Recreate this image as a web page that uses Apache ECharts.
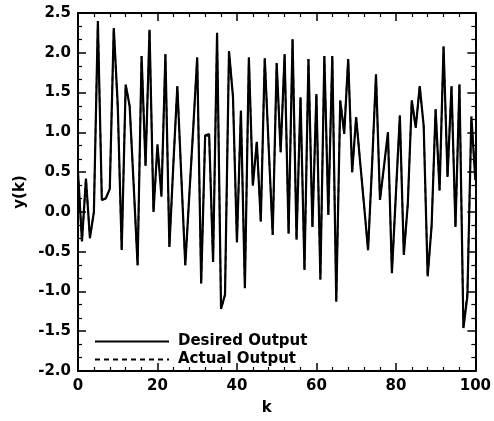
<!DOCTYPE html>
<html><head><meta charset="utf-8">
<script src="https://cdn.jsdelivr.net/npm/echarts@6/dist/echarts.min.js"></script>
<style>html,body{margin:0;padding:0;background:#fff}#c{width:494px;height:421px}</style>
</head><body><div id="c"></div>
<script>
const desired = [0.50, -0.37, 0.42, -0.33, 0.00, 2.40, 0.15, 0.17, 0.29, 2.31,
 1.35, -0.48, 1.60, 1.33, 0.35, -0.67, 1.96, 0.58, 2.29, 0.00,
 0.85, 0.19, 1.98, -0.44, 0.60, 1.58, 0.45, -0.67, 0.20, 1.05,
 1.94, -0.90, 0.96, 0.98, -0.63, 2.25, -1.22, -1.04, 2.02, 1.45,
 -0.38, 1.27, -0.96, 1.94, 0.33, 0.88, -0.12, 1.93, 0.80, -0.29,
 1.87, 0.75, 1.98, -0.27, 2.17, -0.35, 1.44, -0.73, 1.92, -0.19,
 1.48, -0.85, 1.96, -0.04, 1.96, -1.13, 1.40, 0.98, 1.92, 0.50,
 1.19, 0.63, 0.08, -0.48, 0.58, 1.73, 0.15, 0.57, 1.00, -0.77,
 0.22, 1.21, -0.54, 0.10, 1.40, 1.06, 1.58, 1.08, -0.81, -0.17,
 1.29, 0.27, 2.08, 0.44, 1.58, -0.19, 1.60, -1.46, -1.06, 1.20,
 0.40];
const actual = [0.50, -0.37, 0.42, -0.33, 0.00, 2.40, 0.15, 0.17, 0.29, 2.31,
 1.30, -0.48, 1.60, 1.33, 0.35, -0.67, 1.96, 0.58, 2.29, 0.00,
 0.80, 0.25, 1.98, -0.44, 0.60, 1.58, 0.45, -0.67, 0.20, 1.05,
 1.94, -0.90, 0.96, 0.95, -0.63, 2.25, -1.22, -1.04, 2.02, 1.45,
 -0.38, 1.27, -0.96, 1.94, 0.33, 0.88, -0.12, 1.93, 0.80, -0.29,
 1.87, 0.75, 1.98, -0.27, 2.17, -0.35, 1.44, -0.73, 1.92, -0.19,
 1.48, -0.85, 1.96, -0.04, 1.96, -1.13, 1.40, 1.02, 1.92, 0.50,
 1.19, 0.63, 0.08, -0.48, 0.58, 1.73, 0.15, 0.57, 1.00, -0.77,
 0.22, 1.21, -0.54, 0.10, 1.40, 1.06, 1.58, 1.08, -0.81, -0.17,
 1.29, 0.27, 2.08, 0.44, 1.58, -0.19, 1.60, -1.46, -1.00, 1.15,
 0.45];
const seriesNames = ['Desired Output', 'Actual Output'];
const xRange = [0, 100];
const yRange = [-2.0, 2.5];

const FONT = 'DejaVu Sans';
const line = {show: true, onZero: false, lineStyle: {color: '#000', width: 2}};
const tick = {show: true, inside: true, length: 8, lineStyle: {color: '#000', width: 1.5}};
function minor(n) { return {show: true, splitNumber: n, length: 4, lineStyle: {color: '#000', width: 1.2}}; }
const lbl = {fontFamily: FONT, fontWeight: 'bold', fontSize: 15, color: '#000'};

const chart = echarts.init(document.getElementById('c'), null, {renderer: 'canvas'});
chart.setOption({
  animation: false,
  backgroundColor: '#fff',
  grid: {left: 78, right: 17, top: 13, bottom: 48, containLabel: false},
  legend: {
    orient: 'vertical', left: 89, top: 329, itemWidth: 74, itemHeight: 14, itemGap: 3,
    itemStyle: {color: 'rgba(0,0,0,0)', borderColor: 'rgba(0,0,0,0)', borderWidth: 0, opacity: 0},
    textStyle: {fontFamily: FONT, fontWeight: 'bold', fontSize: 15, color: '#000', padding: [0, 0, 0, 4]},
    data: seriesNames
  },
  xAxis: [
    {type: 'value', min: xRange[0], max: xRange[1], interval: 20, position: 'bottom',
     axisLine: line, axisTick: tick, minorTick: minor(5), splitLine: {show: false},
     axisLabel: Object.assign({margin: 8}, lbl),
     name: 'k', nameLocation: 'middle', nameGap: 30,
     nameTextStyle: {fontFamily: FONT, fontWeight: 'bold', fontSize: 15, color: '#000', padding: [0, 20, 0, 0]}},
    {type: 'value', min: xRange[0], max: xRange[1], interval: 20, position: 'top',
     axisLine: line, axisTick: tick, minorTick: minor(5), splitLine: {show: false},
     axisLabel: {show: false}}
  ],
  yAxis: [
    {type: 'value', min: yRange[0], max: yRange[1], interval: 0.5, position: 'left',
     axisLine: line, axisTick: tick, minorTick: minor(3), splitLine: {show: false},
     axisLabel: Object.assign({margin: 7, formatter: v => v.toFixed(1)}, lbl),
     name: 'y(k)', nameLocation: 'middle', nameGap: 50, nameRotate: 90,
     nameTextStyle: {fontFamily: FONT, fontWeight: 'bold', fontSize: 15, color: '#000'}},
    {type: 'value', min: yRange[0], max: yRange[1], interval: 0.5, position: 'right',
     axisLine: line, axisTick: tick, minorTick: minor(3), splitLine: {show: false},
     axisLabel: {show: false}}
  ],
  series: [
    {name: seriesNames[0], type: 'line', xAxisIndex: 0, yAxisIndex: 0, symbol: 'none',
     data: desired.map((v, i) => [i, v]),
     lineStyle: {color: '#000', width: 2.2, type: 'solid'}, itemStyle: {color: '#000'}},
    {name: seriesNames[1], type: 'line', xAxisIndex: 0, yAxisIndex: 0, symbol: 'none',
     data: actual.map((v, i) => [i, v]),
     lineStyle: {color: '#000', width: 1.6, type: [5, 4]}, itemStyle: {color: '#000'}}
  ]
});
</script></body></html>
